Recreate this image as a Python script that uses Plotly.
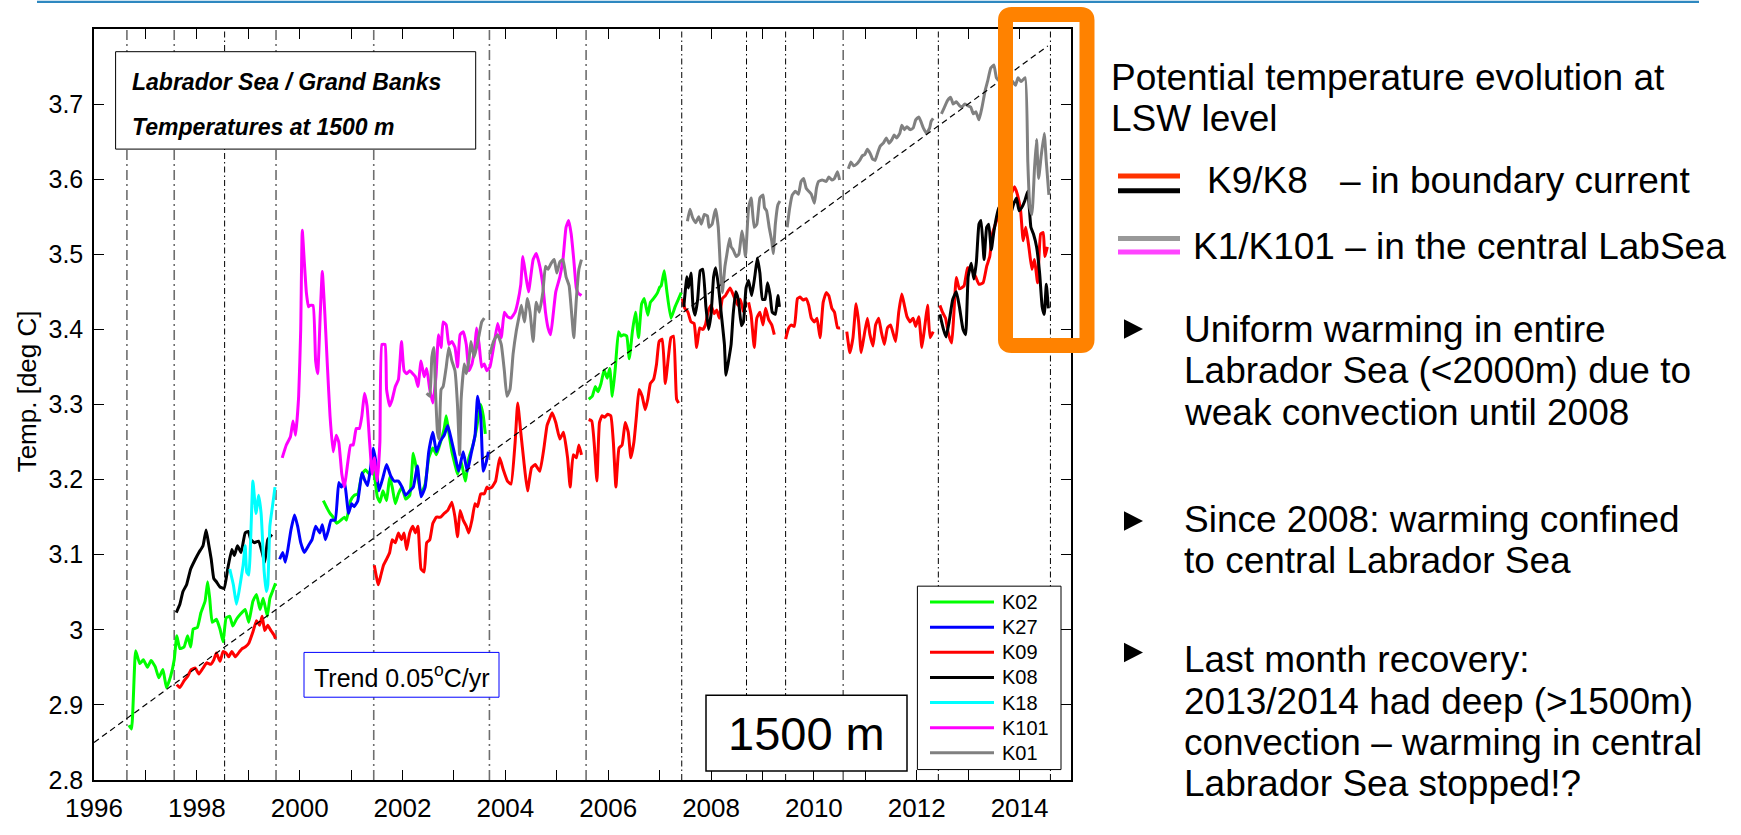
import plotly.graph_objects as go

# ---------------- data (years, potential temperature in deg C) ----------------
K02 = [
    (1996.68, 2.873), (1996.73, 2.868), (1996.81, 2.972), (1996.89, 2.955), (1996.96, 2.960),
    (1997.04, 2.950), (1997.11, 2.959), (1997.19, 2.951), (1997.26, 2.936), (1997.34, 2.947),
    (1997.41, 2.923), (1997.49, 2.938), (1997.56, 2.960), (1997.61, 2.992), (1997.67, 2.975),
    (1997.75, 2.977), (1997.82, 2.992), (1997.88, 2.977), (1997.93, 3.001), (1998.01, 3.003),
    (1998.08, 3.023), (1998.16, 3.038), (1998.21, 3.064), (1998.25, 3.042), (1998.30, 3.010),
    (1998.38, 3.014), (1998.45, 3.001), (1998.51, 2.984), (1998.57, 3.016), (1998.64, 3.018),
    (1998.70, 3.005), (1998.77, 3.014), (1998.85, 3.021), (1998.94, 3.027), (1999.01, 3.010),
    (1999.09, 3.038), (1999.16, 3.047), (1999.23, 3.027), (1999.29, 3.042), (1999.37, 3.018),
    (1999.42, 3.042), (1999.47, 3.051), (1999.53, 3.062),
    (None, None),
    (2000.46, 3.172), (2000.54, 3.161), (2000.59, 3.155), (2000.65, 3.150), (2000.72, 3.142),
    (2000.80, 3.146), (2000.87, 3.150), (2000.91, 3.146), (2000.99, 3.172), (2001.06, 3.179),
    (2001.13, 3.181), (2001.21, 3.207), (2001.28, 3.213), (2001.36, 3.207), (2001.43, 3.213),
    (2001.51, 3.177), (2001.56, 3.170), (2001.62, 3.185), (2001.69, 3.172), (2001.75, 3.203),
    (2001.80, 3.190), (2001.86, 3.168), (2001.92, 3.181), (2001.99, 3.190), (2002.06, 3.174),
    (2002.14, 3.179), (2002.21, 3.235), (2002.29, 3.207), (2002.36, 3.181), (2002.44, 3.194),
    (2002.51, 3.229), (2002.59, 3.242), (2002.66, 3.233), (2002.74, 3.250), (2002.81, 3.268),
    (2002.85, 3.285), (2002.90, 3.263), (2002.96, 3.237), (2003.02, 3.220), (2003.07, 3.207),
    (2003.14, 3.224), (2003.22, 3.198), (2003.29, 3.229), (2003.37, 3.246), (2003.44, 3.268),
    (2003.52, 3.300), (2003.57, 3.285), (2003.61, 3.261),
    (None, None),
    (2005.62, 3.307), (2005.69, 3.311), (2005.75, 3.324), (2005.80, 3.317), (2005.86, 3.328),
    (2005.92, 3.346), (2005.98, 3.335), (2006.03, 3.348), (2006.08, 3.311), (2006.14, 3.350),
    (2006.20, 3.397), (2006.25, 3.391), (2006.30, 3.393), (2006.36, 3.391), (2006.41, 3.361),
    (2006.47, 3.397), (2006.53, 3.423), (2006.59, 3.389), (2006.65, 3.434), (2006.70, 3.441),
    (2006.77, 3.419), (2006.82, 3.436), (2006.88, 3.441), (2006.96, 3.449), (2007.00, 3.456),
    (2007.03, 3.458), (2007.09, 3.478), (2007.14, 3.451), (2007.22, 3.415), (2007.30, 3.430),
    (2007.37, 3.441), (2007.42, 3.449),
]

K27 = [
    (1999.61, 3.094), (1999.67, 3.103), (1999.72, 3.090), (1999.77, 3.107), (1999.83, 3.133),
    (1999.90, 3.153), (1999.96, 3.138), (2000.02, 3.116), (2000.09, 3.103), (2000.17, 3.112),
    (2000.24, 3.120), (2000.31, 3.138), (2000.39, 3.129), (2000.44, 3.140), (2000.50, 3.120),
    (2000.56, 3.133), (2000.61, 3.146), (2000.69, 3.146), (2000.76, 3.196), (2000.81, 3.190),
    (2000.87, 3.198), (2000.95, 3.155), (2001.01, 3.168), (2001.06, 3.164), (2001.13, 3.172),
    (2001.21, 3.209), (2001.26, 3.200), (2001.32, 3.192), (2001.38, 3.216), (2001.43, 3.242),
    (2001.48, 3.224), (2001.54, 3.185), (2001.62, 3.203), (2001.69, 3.220), (2001.77, 3.205),
    (2001.84, 3.198), (2001.92, 3.198), (2001.99, 3.190), (2002.06, 3.179), (2002.14, 3.185),
    (2002.21, 3.190), (2002.29, 3.218), (2002.36, 3.177), (2002.44, 3.190), (2002.51, 3.237),
    (2002.59, 3.263), (2002.66, 3.237), (2002.74, 3.252), (2002.81, 3.259), (2002.88, 3.272),
    (2002.96, 3.250), (2003.03, 3.229), (2003.09, 3.211), (2003.18, 3.237), (2003.26, 3.211),
    (2003.33, 3.233), (2003.41, 3.259), (2003.46, 3.311), (2003.52, 3.285), (2003.57, 3.211),
    (2003.63, 3.224), (2003.67, 3.237),
]

K09 = [
    (1997.61, 2.927), (1997.67, 2.923), (1997.75, 2.932), (1997.82, 2.938), (1997.89, 2.947),
    (1997.97, 2.949), (1998.04, 2.941), (1998.12, 2.949), (1998.19, 2.956), (1998.27, 2.954),
    (1998.33, 2.960), (1998.38, 2.969), (1998.45, 2.958), (1998.51, 2.971), (1998.57, 2.969),
    (1998.62, 2.964), (1998.68, 2.971), (1998.75, 2.964), (1998.83, 2.971), (1998.88, 2.975),
    (1998.94, 2.977), (1999.01, 2.982), (1999.09, 2.997), (1999.16, 3.012), (1999.22, 3.006),
    (1999.27, 3.018), (1999.32, 2.999), (1999.38, 3.006), (1999.44, 2.999), (1999.50, 2.993),
    (1999.53, 2.988),
    (None, None),
    (2001.45, 3.086), (2001.53, 3.060), (2001.58, 3.073), (2001.63, 3.086), (2001.69, 3.094),
    (2001.75, 3.103), (2001.80, 3.120), (2001.86, 3.116), (2001.92, 3.129), (2001.98, 3.120),
    (2002.03, 3.129), (2002.08, 3.107), (2002.14, 3.129), (2002.20, 3.138), (2002.25, 3.129),
    (2002.30, 3.138), (2002.36, 3.081), (2002.42, 3.077), (2002.47, 3.116), (2002.53, 3.120),
    (2002.59, 3.142), (2002.66, 3.150), (2002.74, 3.150), (2002.81, 3.155), (2002.88, 3.159),
    (2002.96, 3.170), (2003.02, 3.150), (2003.07, 3.124), (2003.12, 3.159), (2003.18, 3.146),
    (2003.24, 3.138), (2003.29, 3.129), (2003.35, 3.146), (2003.41, 3.168), (2003.46, 3.164),
    (2003.52, 3.181), (2003.59, 3.181), (2003.64, 3.190), (2003.67, 3.188), (2003.74, 3.190),
    (2003.81, 3.198), (2003.89, 3.229), (2003.96, 3.213), (2004.04, 3.198), (2004.11, 3.194),
    (2004.19, 3.250), (2004.24, 3.302), (2004.30, 3.263), (2004.36, 3.224), (2004.43, 3.185),
    (2004.51, 3.216), (2004.58, 3.220), (2004.67, 3.211), (2004.75, 3.242), (2004.81, 3.272),
    (2004.86, 3.281), (2004.91, 3.289), (2004.98, 3.276), (2005.06, 3.254), (2005.13, 3.263),
    (2005.21, 3.229), (2005.26, 3.190), (2005.32, 3.233), (2005.38, 3.229), (2005.43, 3.246),
    (2005.48, 3.233),
    (None, None),
    (2005.62, 3.280), (2005.68, 3.278), (2005.73, 3.246), (2005.78, 3.198), (2005.83, 3.276),
    (2005.88, 3.285), (2005.93, 3.283), (2005.99, 3.287), (2006.05, 3.285), (2006.10, 3.250),
    (2006.15, 3.190), (2006.21, 3.242), (2006.27, 3.246), (2006.33, 3.276), (2006.39, 3.263),
    (2006.44, 3.229), (2006.50, 3.250), (2006.55, 3.285), (2006.60, 3.320), (2006.66, 3.311),
    (2006.72, 3.293), (2006.77, 3.307), (2006.82, 3.328), (2006.88, 3.333), (2006.94, 3.354),
    (2006.99, 3.384), (2007.05, 3.387), (2007.11, 3.328), (2007.17, 3.363), (2007.22, 3.389),
    (2007.27, 3.391), (2007.33, 3.307), (2007.37, 3.302),
    (None, None),
    (2007.44, 3.441), (2007.49, 3.428), (2007.55, 3.423), (2007.61, 3.410), (2007.67, 3.408),
    (2007.72, 3.376), (2007.78, 3.402), (2007.84, 3.400), (2007.89, 3.406), (2007.94, 3.423),
    (2008.00, 3.432), (2008.06, 3.421), (2008.11, 3.426), (2008.16, 3.415), (2008.22, 3.441),
    (2008.28, 3.445), (2008.37, 3.455), (2008.45, 3.443), (2008.52, 3.432), (2008.57, 3.440),
    (2008.63, 3.423),
    (None, None),
    (2008.73, 3.436), (2008.78, 3.419), (2008.84, 3.376), (2008.89, 3.415), (2008.95, 3.423),
    (2009.01, 3.406), (2009.06, 3.428), (2009.12, 3.413), (2009.18, 3.406), (2009.23, 3.393),
    (None, None),
    (2009.45, 3.387), (2009.51, 3.402), (2009.56, 3.406), (2009.62, 3.404), (2009.68, 3.441),
    (2009.73, 3.443), (2009.79, 3.439), (2009.85, 3.441), (2009.90, 3.432), (2009.95, 3.415),
    (2010.01, 3.410), (2010.06, 3.415), (2010.12, 3.389), (2010.18, 3.436), (2010.24, 3.449),
    (2010.29, 3.445), (2010.35, 3.428), (2010.40, 3.423), (2010.46, 3.402), (2010.51, 3.402),
    (None, None),
    (2010.64, 3.397), (2010.70, 3.369), (2010.76, 3.389), (2010.82, 3.434), (2010.87, 3.410),
    (2010.92, 3.369), (2010.98, 3.393), (2011.04, 3.415), (2011.09, 3.393), (2011.15, 3.378),
    (2011.20, 3.406), (2011.26, 3.415), (2011.31, 3.397), (2011.37, 3.380), (2011.43, 3.402),
    (2011.49, 3.406), (2011.54, 3.395), (2011.59, 3.384), (2011.65, 3.423), (2011.71, 3.447),
    (2011.76, 3.432), (2011.81, 3.417), (2011.87, 3.410), (2011.93, 3.415), (2011.98, 3.404),
    (2012.04, 3.417), (2012.10, 3.376), (2012.16, 3.406), (2012.21, 3.432), (2012.26, 3.389),
    (2012.32, 3.397),
    (None, None),
    (2012.45, 3.432), (2012.50, 3.423), (2012.56, 3.415), (2012.62, 3.393), (2012.68, 3.382),
    (2012.72, 3.419), (2012.77, 3.469), (2012.83, 3.454), (2012.92, 3.458), (2012.99, 3.482),
    (2013.06, 3.480), (2013.14, 3.471), (2013.21, 3.460), (2013.29, 3.462), (2013.36, 3.484),
    (2013.42, 3.497), (2013.47, 3.527), (2013.53, 3.540), (2013.59, 3.553), (2013.66, 3.571),
    (2013.73, 3.558), (2013.81, 3.575), (2013.90, 3.590), (2013.96, 3.579), (2014.02, 3.558),
    (2014.07, 3.518), (2014.12, 3.536), (2014.18, 3.510), (2014.24, 3.480), (2014.29, 3.493),
    (2014.35, 3.462), (2014.41, 3.527), (2014.46, 3.529), (2014.49, 3.497), (2014.54, 3.510),
]

K08 = [
    (1997.60, 3.023), (1997.67, 3.034), (1997.73, 3.051), (1997.80, 3.060), (1997.88, 3.081),
    (1997.97, 3.094), (1998.04, 3.103), (1998.12, 3.112), (1998.18, 3.133), (1998.23, 3.114),
    (1998.28, 3.094), (1998.33, 3.068), (1998.38, 3.064), (1998.45, 3.057), (1998.53, 3.055),
    (1998.60, 3.081), (1998.68, 3.107), (1998.73, 3.099), (1998.79, 3.112), (1998.86, 3.103),
    (1998.94, 3.129), (1999.00, 3.131), (1999.05, 3.120), (1999.12, 3.116), (1999.20, 3.118),
    (1999.27, 3.103), (1999.32, 3.090), (1999.38, 3.120), (1999.46, 3.127),
    (None, None),
    (2007.47, 3.430), (2007.53, 3.470), (2007.56, 3.455), (2007.61, 3.475), (2007.65, 3.430),
    (2007.69, 3.419), (2007.74, 3.440), (2007.79, 3.478), (2007.84, 3.480), (2007.90, 3.430),
    (2007.95, 3.400), (2008.00, 3.420), (2008.05, 3.470), (2008.09, 3.482), (2008.14, 3.460),
    (2008.20, 3.420), (2008.26, 3.380), (2008.29, 3.339), (2008.33, 3.354), (2008.39, 3.380),
    (2008.43, 3.420), (2008.48, 3.450), (2008.53, 3.440), (2008.59, 3.405), (2008.63, 3.410),
    (2008.68, 3.455), (2008.73, 3.465), (2008.79, 3.445), (2008.85, 3.470), (2008.90, 3.495),
    (2008.95, 3.475), (2009.00, 3.440), (2009.05, 3.440), (2009.10, 3.462), (2009.15, 3.445),
    (2009.19, 3.423), (2009.25, 3.420), (2009.30, 3.445), (2009.33, 3.430),
    (None, None),
    (2012.45, 3.420), (2012.52, 3.400), (2012.57, 3.390), (2012.63, 3.410), (2012.70, 3.440),
    (2012.77, 3.450), (2012.83, 3.430), (2012.90, 3.400), (2012.95, 3.393), (2013.00, 3.470),
    (2013.06, 3.488), (2013.11, 3.467), (2013.16, 3.490), (2013.21, 3.540), (2013.25, 3.545),
    (2013.31, 3.493), (2013.36, 3.536), (2013.40, 3.540), (2013.45, 3.506), (2013.50, 3.530),
    (2013.59, 3.562), (2013.66, 3.553), (2013.73, 3.536), (2013.81, 3.550), (2013.88, 3.566),
    (2013.94, 3.575), (2013.99, 3.558), (2014.04, 3.562), (2014.10, 3.571), (2014.16, 3.584),
    (2014.22, 3.536), (2014.27, 3.527), (2014.33, 3.510), (2014.39, 3.475), (2014.44, 3.430),
    (2014.48, 3.420), (2014.52, 3.460), (2014.56, 3.428),
]

K18 = [
    (1998.64, 3.081), (1998.71, 3.060), (1998.77, 3.034), (1998.82, 3.051), (1998.90, 3.086),
    (1998.94, 3.112), (1998.97, 3.077), (1999.01, 3.073), (1999.09, 3.198), (1999.15, 3.155),
    (1999.20, 3.179), (1999.25, 3.155), (1999.31, 3.077), (1999.35, 3.051), (1999.38, 3.060),
    (1999.42, 3.138), (1999.47, 3.164), (1999.52, 3.190),
]

K101 = [
    (1999.66, 3.229), (1999.74, 3.246), (1999.82, 3.257), (1999.87, 3.278), (1999.92, 3.259),
    (1999.98, 3.311), (2000.02, 3.400), (2000.05, 3.532), (2000.09, 3.490), (2000.13, 3.449),
    (2000.17, 3.430), (2000.20, 3.432), (2000.26, 3.432), (2000.31, 3.358), (2000.35, 3.341),
    (2000.40, 3.420), (2000.44, 3.477), (2000.49, 3.420), (2000.54, 3.350), (2000.59, 3.285),
    (2000.65, 3.237), (2000.71, 3.259), (2000.76, 3.250), (2000.82, 3.207), (2000.87, 3.190),
    (2000.93, 3.220), (2000.99, 3.246), (2001.04, 3.246), (2001.10, 3.268), (2001.16, 3.268),
    (2001.21, 3.285), (2001.26, 3.315), (2001.31, 3.298), (2001.36, 3.250), (2001.41, 3.207),
    (2001.45, 3.229), (2001.51, 3.198), (2001.56, 3.250), (2001.60, 3.380), (2001.66, 3.380),
    (2001.69, 3.320), (2001.75, 3.298), (2001.80, 3.307), (2001.86, 3.324), (2001.92, 3.333),
    (2001.98, 3.384), (2002.03, 3.345), (2002.08, 3.341), (2002.14, 3.345), (2002.20, 3.341),
    (2002.25, 3.337), (2002.30, 3.324), (2002.36, 3.358), (2002.42, 3.337), (2002.47, 3.348),
    (2002.53, 3.320), (2002.59, 3.302), (2002.65, 3.337), (2002.70, 3.393), (2002.75, 3.376),
    (2002.79, 3.410), (2002.85, 3.406), (2002.90, 3.380), (2002.96, 3.384), (2003.02, 3.376),
    (2003.07, 3.350), (2003.12, 3.393), (2003.18, 3.397), (2003.24, 3.380), (2003.29, 3.345),
    (2003.35, 3.354), (2003.41, 3.380), (2003.44, 3.402), (2003.49, 3.380), (2003.54, 3.350),
    (2003.59, 3.354), (2003.64, 3.345), (2003.70, 3.350), (2003.77, 3.376), (2003.85, 3.408),
    (2003.92, 3.389), (2003.98, 3.423), (2004.04, 3.417), (2004.11, 3.415), (2004.19, 3.423),
    (2004.24, 3.436), (2004.30, 3.460), (2004.34, 3.497), (2004.39, 3.475), (2004.45, 3.450),
    (2004.54, 3.493), (2004.60, 3.501), (2004.67, 3.484), (2004.73, 3.458), (2004.78, 3.423),
    (2004.83, 3.402), (2004.88, 3.393), (2004.93, 3.420), (2004.98, 3.450), (2005.06, 3.470),
    (2005.12, 3.493), (2005.18, 3.536), (2005.23, 3.545), (2005.28, 3.527), (2005.33, 3.493),
    (2005.38, 3.455), (2005.42, 3.448), (2005.48, 3.445),
]

K01 = [
    (2002.47, 3.315), (2002.53, 3.311), (2002.57, 3.363), (2002.61, 3.376), (2002.64, 3.320),
    (2002.68, 3.263), (2002.71, 3.254), (2002.75, 3.320), (2002.79, 3.324), (2002.85, 3.350),
    (2002.90, 3.376), (2002.96, 3.358), (2003.02, 3.345), (2003.07, 3.298), (2003.11, 3.233),
    (2003.14, 3.307), (2003.20, 3.354), (2003.24, 3.341), (2003.29, 3.358), (2003.33, 3.384),
    (2003.39, 3.363), (2003.44, 3.376), (2003.49, 3.393), (2003.54, 3.410), (2003.59, 3.415),
    (None, None),
    (2003.70, 3.367), (2003.77, 3.384), (2003.85, 3.393), (2003.92, 3.380), (2003.98, 3.345),
    (2004.03, 3.311), (2004.09, 3.320), (2004.15, 3.367), (2004.21, 3.397), (2004.26, 3.415),
    (2004.31, 3.432), (2004.37, 3.410), (2004.43, 3.441), (2004.48, 3.423), (2004.54, 3.384),
    (2004.60, 3.436), (2004.66, 3.423), (2004.73, 3.450), (2004.78, 3.484), (2004.83, 3.480),
    (2004.89, 3.488), (2004.95, 3.493), (2005.00, 3.475), (2005.06, 3.490), (2005.12, 3.493),
    (2005.18, 3.470), (2005.24, 3.458), (2005.29, 3.420), (2005.33, 3.389), (2005.38, 3.440),
    (2005.43, 3.480), (2005.48, 3.493),
    (None, None),
    (2007.54, 3.544), (2007.59, 3.560), (2007.64, 3.549), (2007.70, 3.542), (2007.76, 3.550),
    (2007.81, 3.540), (2007.87, 3.553), (2007.93, 3.551), (2007.96, 3.536), (2008.02, 3.540),
    (2008.06, 3.553), (2008.09, 3.560), (2008.14, 3.536), (2008.19, 3.471), (2008.22, 3.449),
    (2008.27, 3.484), (2008.31, 3.501), (2008.36, 3.521), (2008.39, 3.510), (2008.43, 3.506),
    (2008.49, 3.497), (2008.54, 3.500), (2008.60, 3.531), (2008.63, 3.520), (2008.67, 3.497),
    (2008.73, 3.562), (2008.78, 3.575), (2008.84, 3.536), (2008.89, 3.540), (2008.95, 3.575),
    (2009.01, 3.579), (2009.04, 3.562), (2009.08, 3.558), (2009.13, 3.536), (2009.18, 3.518),
    (2009.21, 3.501), (2009.25, 3.540), (2009.30, 3.566), (2009.34, 3.571),
    (None, None),
    (2009.48, 3.536), (2009.53, 3.562), (2009.58, 3.579), (2009.64, 3.584), (2009.70, 3.580),
    (2009.75, 3.597), (2009.80, 3.601), (2009.85, 3.588), (2009.90, 3.584), (2009.95, 3.580),
    (2010.01, 3.568), (2010.05, 3.588), (2010.09, 3.597), (2010.16, 3.599), (2010.24, 3.597),
    (2010.29, 3.603), (2010.35, 3.599), (2010.40, 3.601), (2010.46, 3.610), (2010.50, 3.599),
    (None, None),
    (2010.67, 3.614), (2010.72, 3.623), (2010.77, 3.618), (2010.83, 3.620), (2010.89, 3.625),
    (2010.94, 3.631), (2010.99, 3.633), (2011.04, 3.640), (2011.09, 3.635), (2011.14, 3.627),
    (2011.19, 3.625), (2011.24, 3.635), (2011.29, 3.644), (2011.35, 3.648), (2011.41, 3.655),
    (2011.46, 3.648), (2011.52, 3.653), (2011.56, 3.659), (2011.61, 3.655), (2011.67, 3.661),
    (2011.71, 3.672), (2011.76, 3.666), (2011.81, 3.670), (2011.87, 3.666), (2011.93, 3.668),
    (2011.98, 3.679), (2012.04, 3.683), (2012.08, 3.677), (2012.13, 3.668), (2012.19, 3.661),
    (2012.25, 3.668), (2012.28, 3.677), (2012.32, 3.681),
    (None, None),
    (2012.48, 3.687), (2012.54, 3.696), (2012.60, 3.705), (2012.66, 3.709), (2012.71, 3.700),
    (2012.77, 3.703), (2012.83, 3.698), (2012.88, 3.696), (2012.93, 3.700), (2012.99, 3.698),
    (2013.05, 3.696), (2013.10, 3.687), (2013.15, 3.690), (2013.21, 3.679), (2013.27, 3.696),
    (2013.33, 3.718), (2013.38, 3.731), (2013.44, 3.748), (2013.50, 3.752), (2013.55, 3.735),
    (2013.60, 3.731), (2013.66, 3.739), (2013.72, 3.735), (2013.77, 3.728), (2013.85, 3.731),
    (2013.92, 3.725), (2013.97, 3.735), (2014.03, 3.730), (2014.11, 3.735), (2014.16, 3.623),
    (2014.20, 3.562), (2014.24, 3.553), (2014.29, 3.614), (2014.33, 3.653), (2014.37, 3.601),
    (2014.42, 3.631), (2014.48, 3.661), (2014.52, 3.623), (2014.57, 3.579),
]

series_names = ["K02", "K27", "K09", "K08", "K18", "K101", "K01"]
series_data = [K02, K27, K09, K08, K18, K101, K01]
series_colors = ["#00ff00", "#0000ff", "#ff0000", "#000000", "#00ffff", "#ff00ff", "#808080"]

# linear trend 0.05 degC/yr
trend_t = [1996.0, 2014.55]
trend_v = [2.85, 3.7775]

# mooring turnaround dates (vertical dash-dot lines)
turn_dates = [1996.64, 1997.56, 1998.54, 1999.54, 2001.44, 2003.69, 2005.57,
              2007.43, 2008.69, 2009.45, 2010.57, 2012.42, 2014.60]
turn_kind = ["g", "g", "k", "g", "g", "g", "g", "k", "k", "k", "g", "k", "k"]

x_tick_vals = [1996, 1998, 2000, 2002, 2004, 2006, 2008, 2010, 2012, 2014]
x_tick_text = ["1996", "1998", "2000", "2002", "2004", "2006", "2008", "2010", "2012", "2014"]
x_minor_vals = [1997, 1999, 2001, 2003, 2005, 2007, 2009, 2011, 2013]
y_tick_vals = [2.8, 2.9, 3.0, 3.1, 3.2, 3.3, 3.4, 3.5, 3.6, 3.7]
y_tick_text = ["2.8", "2.9", "3", "3.1", "3.2", "3.3", "3.4", "3.5", "3.6", "3.7"]

# ---------------- layout helpers (pixel -> paper) ----------------
W, H = 1741, 835
PL, PR, PT, PB = 94, 1071, 29, 800
FONT = "Arial, 'Liberation Sans', sans-serif"


def X(px):
    return (px - PL) / (PR - PL)


def Y(py):
    return (PB - py) / (PB - PT)


fig = go.Figure()

for name, data, col in zip(series_names, series_data, series_colors):
    fig.add_trace(go.Scatter(
        x=[p[0] for p in data], y=[p[1] for p in data], mode="lines", name=name,
        line=dict(color=col, width=3, shape="spline", smoothing=0.4),
        connectgaps=False, showlegend=False, hoverinfo="skip"))

fig.add_trace(go.Scatter(x=trend_t, y=trend_v, mode="lines", showlegend=False,
                         line=dict(color="black", width=1.2, dash="6px,4px"), hoverinfo="skip"))

shapes = []
for d, k in zip(turn_dates, turn_kind):
    if k == "g":
        ln = dict(color="#6e6e6e", width=1.6, dash="10px,4px,2px,4px")
    else:
        ln = dict(color="black", width=1, dash="6px,3px,1.5px,3px")
    shapes.append(dict(type="line", xref="x", yref="paper", x0=d, x1=d, y0=0, y1=1,
                       line=ln, layer="below"))


def box(x0, y0, x1, y1, color="black", width=1):
    return dict(type="rect", xref="paper", yref="paper", x0=X(x0), x1=X(x1), y0=Y(y1), y1=Y(y0),
                line=dict(color=color, width=width), fillcolor="white", layer="above")


shapes.append(box(115.6, 52.3, 475.7, 152.3))           # title box
shapes.append(box(304, 669, 499, 715, color="#0000ff"))  # trend box
shapes.append(box(706, 713, 907, 790.7, width=1.5))     # 1500 m box
shapes.append(box(917.4, 601, 1061, 789.3))             # legend box

annotations = []
# legend entries
for i, (name, col) in enumerate(zip(series_names, series_colors)):
    yy = 617.3 + i * 25.8
    shapes.append(dict(type="line", xref="paper", yref="paper", x0=X(930), x1=X(994),
                       y0=Y(yy), y1=Y(yy), line=dict(color=col, width=3), layer="above"))
    annotations.append(dict(xref="paper", yref="paper", x=X(1000), y=Y(yy), text=name,
                            xanchor="left", yanchor="middle", showarrow=False,
                            font=dict(family=FONT, size=20, color="black")))

# top blue rule
shapes.append(dict(type="line", xref="paper", yref="paper", x0=X(37), x1=X(1699),
                   y0=Y(1.2), y1=Y(1.2), line=dict(color="#2e88c0", width=2.2), layer="above"))

# orange rounded frame
ox0, ox1, oy0, oy1, r = 1005.5, 1087, 14, 354, 6
opath = (f"M {X(ox0 + r)},{Y(oy0)} L {X(ox1 - r)},{Y(oy0)} Q {X(ox1)},{Y(oy0)} {X(ox1)},{Y(oy0 + r)} "
         f"L {X(ox1)},{Y(oy1 - r)} Q {X(ox1)},{Y(oy1)} {X(ox1 - r)},{Y(oy1)} "
         f"L {X(ox0 + r)},{Y(oy1)} Q {X(ox0)},{Y(oy1)} {X(ox0)},{Y(oy1 - r)} "
         f"L {X(ox0)},{Y(oy0 + r)} Q {X(ox0)},{Y(oy0)} {X(ox0 + r)},{Y(oy0)} Z")
shapes.append(dict(type="path", xref="paper", yref="paper", path=opath,
                   line=dict(color="#ff8200", width=15), layer="above"))

# key lines on the right
for yy, col in [(180, "#ff3300"), (195, "#000000"), (244, "#999999"), (258, "#ff44ff")]:
    shapes.append(dict(type="line", xref="paper", yref="paper", x0=X(1118), x1=X(1180),
                       y0=Y(yy), y1=Y(yy), line=dict(color=col, width=5), layer="above"))

# bullet triangles
for cy in [337, 534, 669]:
    tpath = f"M {X(1124)},{Y(cy - 10)} L {X(1143)},{Y(cy)} L {X(1124)},{Y(cy + 10)} Z"
    shapes.append(dict(type="path", xref="paper", yref="paper", path=tpath,
                       fillcolor="black", line=dict(color="black", width=0), layer="above"))


def txt(px, py, text, size, xanchor="left", angle=0):
    annotations.append(dict(xref="paper", yref="paper", x=X(px), y=Y(py), text=text,
                            xanchor=xanchor, yanchor="middle", showarrow=False, textangle=angle,
                            font=dict(family=FONT, size=size, color="black")))


txt(130, 83, "<b><i>Labrador Sea / Grand Banks</i></b>", 23)
txt(130, 130, "<b><i>Temperatures at 1500 m</i></b>", 23)
txt(401.5, 693, "Trend 0.05<sup>o</sup>C/yr", 25, xanchor="center")
txt(806, 752, "1500 m", 47, xanchor="center")
txt(27, 401, "Temp. [deg C]", 26, xanchor="center", angle=-90)

RS = 37
txt(1109, 79, "Potential temperature evolution at", RS)
txt(1109, 121, "LSW level", RS)
txt(1205, 185, "K9/K8", RS)
txt(1338, 185, "– in boundary current", RS)
txt(1191, 252, "K1/K101 – in the central LabSea", RS)
txt(1182, 337, "Uniform warming in entire", RS)
txt(1182, 380, "Labrador Sea (&lt;2000m) due to", RS)
txt(1182, 423, "weak convection until 2008", RS)
txt(1182, 533, "Since 2008: warming confined", RS)
txt(1182, 575, "to central Labrador Sea", RS)
txt(1182, 676, "Last month recovery:", RS)
txt(1182, 719, "2013/2014 had deep (&gt;1500m)", RS)
txt(1182, 761, "convection – warming in central", RS)
txt(1182, 804, "Labrador Sea stopped!?", RS)

axis_common = dict(showline=True, linecolor="black", linewidth=1.5, mirror="ticks",
                   ticks="inside", ticklen=10, tickwidth=1, tickcolor="black",
                   showgrid=False, zeroline=False)

fig.update_layout(
    width=W, height=H, autosize=False,
    margin=dict(l=PL, r=W - PR, t=PT, b=H - PB, pad=0),
    paper_bgcolor="white", plot_bgcolor="white",
    font=dict(family=FONT, color="black"),
    showlegend=False,
    xaxis=dict(range=[1996, 2015], tickmode="array", tickvals=x_tick_vals, ticktext=x_tick_text,
               minor=dict(tickmode="array", tickvals=x_minor_vals, ticks="inside", ticklen=10,
                          tickwidth=1, tickcolor="black", showgrid=False),
               ticklabelstandoff=4, tickfont=dict(family=FONT, size=26, color="black"),
               **axis_common),
    yaxis=dict(range=[2.8, 3.8], tickmode="array", tickvals=y_tick_vals, ticktext=y_tick_text,
               ticklabelstandoff=4, tickfont=dict(family=FONT, size=25, color="black"),
               **axis_common),
    shapes=shapes,
    annotations=annotations,
)

fig.write_html("out.html")
